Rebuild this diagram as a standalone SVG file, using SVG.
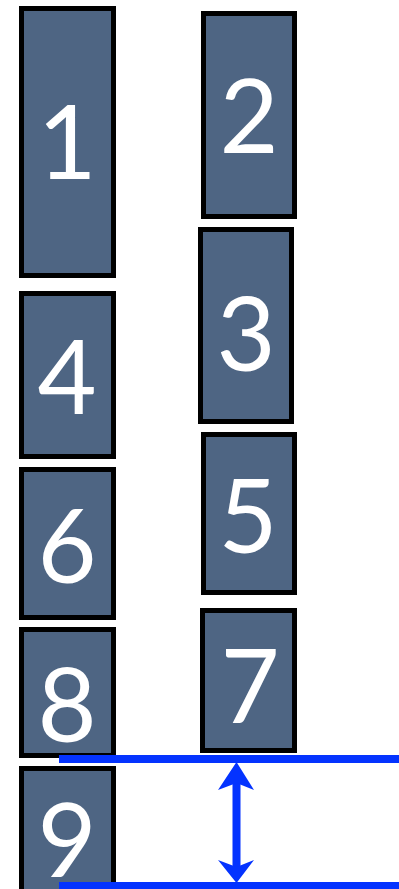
<svg xmlns="http://www.w3.org/2000/svg" width="399" height="889" viewBox="0 0 399 889">
<style>
.box{fill:#4e6583;stroke:#000;stroke-width:5}
.lbl{fill:#fff;font-family:Lato,"Open Sans",sans-serif;font-size:102px;text-anchor:middle}
.blue{stroke:#0433ff;stroke-width:8;fill:none}
.head{fill:#0433ff}
</style>
<rect width="399" height="889" fill="#fff"/>
<g id="n1"><rect class="box" x="21.5" y="8.5" width="92" height="267"/><text class="lbl" x="67" y="179">1</text></g>
<g id="n2"><rect class="box" x="203.5" y="13.5" width="91" height="203"/><text class="lbl" x="249" y="153">2</text></g>
<g id="n3"><rect class="box" x="200.5" y="229.5" width="91" height="192"/><text class="lbl" x="246" y="371">3</text></g>
<g id="n4"><rect class="box" x="21.5" y="293.5" width="92" height="163"/><text class="lbl" x="67" y="414">4</text></g>
<g id="n5"><rect class="box" x="203.5" y="434.5" width="91" height="158"/><text class="lbl" x="248" y="553">5</text></g>
<g id="n6"><rect class="box" x="21.5" y="469.5" width="92" height="148"/><text class="lbl" x="67" y="583">6</text></g>
<g id="n7"><rect class="box" x="202.5" y="610.5" width="92" height="140"/><text class="lbl" x="250" y="723">7</text></g>
<g id="n8"><rect class="box" x="21.5" y="629.5" width="92" height="126"/><text class="lbl" x="67" y="742">8</text></g>
<g id="n9"><rect class="box" x="21.5" y="768.5" width="92" height="130"/><text class="lbl" x="67" y="877">9</text></g>
<g id="connectors">
<line class="blue" x1="59" y1="759" x2="399" y2="759"/>
<line class="blue" x1="59" y1="886" x2="399" y2="886"/>
<line class="blue" x1="236.5" y1="775" x2="236.5" y2="870" style="stroke-width:8"/>
<polygon class="head" points="236.5,762 254,790 236.5,783 218,790"/>
<polygon class="head" points="236.5,883 254,860 236.5,867 218,860"/>
</g>
</svg>
